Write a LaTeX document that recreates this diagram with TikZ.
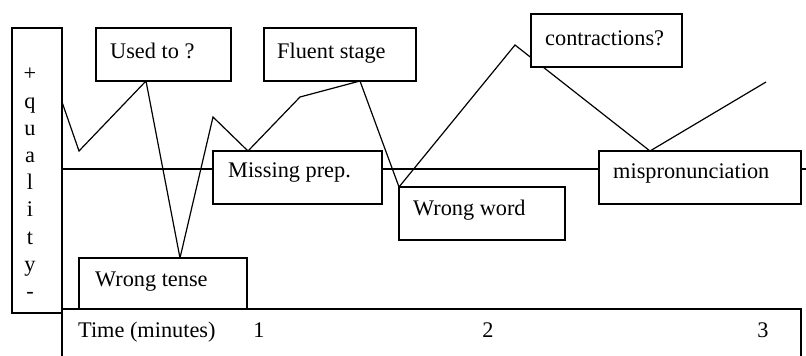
\documentclass[tikz,border=0pt]{standalone}
\usepackage{fontspec}
\setmainfont{Liberation Serif}
\begin{document}
\begin{tikzpicture}[x=1pt,y=-1pt,
  box/.style={draw, fill=white, line width=1.25pt, inner sep=0pt, outer sep=0pt, anchor=north west},
  lbl/.style={font=\fontsize{22.3}{27}\selectfont, inner sep=0pt, anchor=base west},
  trace/.style={line width=1.2pt, line join=miter}]
\useasboundingbox (0,0) rectangle (806,356);
\clip (0,0) rectangle (806,356);

% time axis at mid quality
\coordinate (axL) at (62,169);
\coordinate (axR) at (806,169);
\draw[line width=1.2pt] (axL) -- (axR);

% quality trace over time
\coordinate (p0) at (62,102);
\coordinate (p1) at (79,151);
\coordinate (p2) at (146,81);
\coordinate (p3) at (180,258);
\coordinate (p4) at (213,117);
\coordinate (p5) at (248,151);
\coordinate (p6) at (300,97);
\coordinate (p7) at (360,81);
\coordinate (p8) at (399,187);
\coordinate (p9) at (515,45);
\coordinate (p10) at (650,151);
\coordinate (p11) at (766,82);
\draw[trace] (p0) -- (p1) -- (p2) -- (p3) -- (p4) -- (p5) -- (p6) -- (p7)
  -- (p8) -- (p9) -- (p10) -- (p11);

% vertical quality scale
\node[box, minimum width=50, minimum height=285] (qual) at (12,28) {};
\foreach \c [count=\k from 0] in {+,q,u,a,l,i,t,y,-}
  \node[lbl, anchor=base] (ql\k) at (30,{80.8+27.2*\k}) {\c};

% time scale
\node[box, minimum width=739, minimum height=70] (time) at (62,309) {};
\node[lbl] (timet) at (78,337) {Time (minutes)};
\node[lbl, anchor=base] (t1) at (259,337) {1};
\node[lbl, anchor=base] (t2) at (488,337) {2};
\node[lbl, anchor=base] (t3) at (763,337) {3};

% event labels
\node[box, minimum width=135, minimum height=53] (used) at (96,28) {};
\node[lbl] (usedt) at (110,58) {Used to ?};

\node[box, minimum width=152, minimum height=53] (fluent) at (264,28) {};
\node[lbl] (fluentt) at (277,58) {Fluent stage};

\node[box, minimum width=151, minimum height=53] (contr) at (531,14) {};
\node[lbl] (contrt) at (545,45) {contractions?};

\node[box, minimum width=169, minimum height=53] (missing) at (213,151) {};
\node[lbl] (missingt) at (228,177) {Missing prep.};

\node[box, minimum width=166, minimum height=53] (wrongw) at (399,187) {};
\node[lbl] (wrongwt) at (413,215) {Wrong word};

\node[box, minimum width=202, minimum height=53] (mispr) at (599,151) {};
\node[lbl] (misprt) at (613,178) {mispronunciation};

\node[box, minimum width=168, minimum height=51] (tense) at (79,258) {};
\node[lbl] (tenset) at (95,286) {Wrong tense};
\end{tikzpicture}
\end{document}
